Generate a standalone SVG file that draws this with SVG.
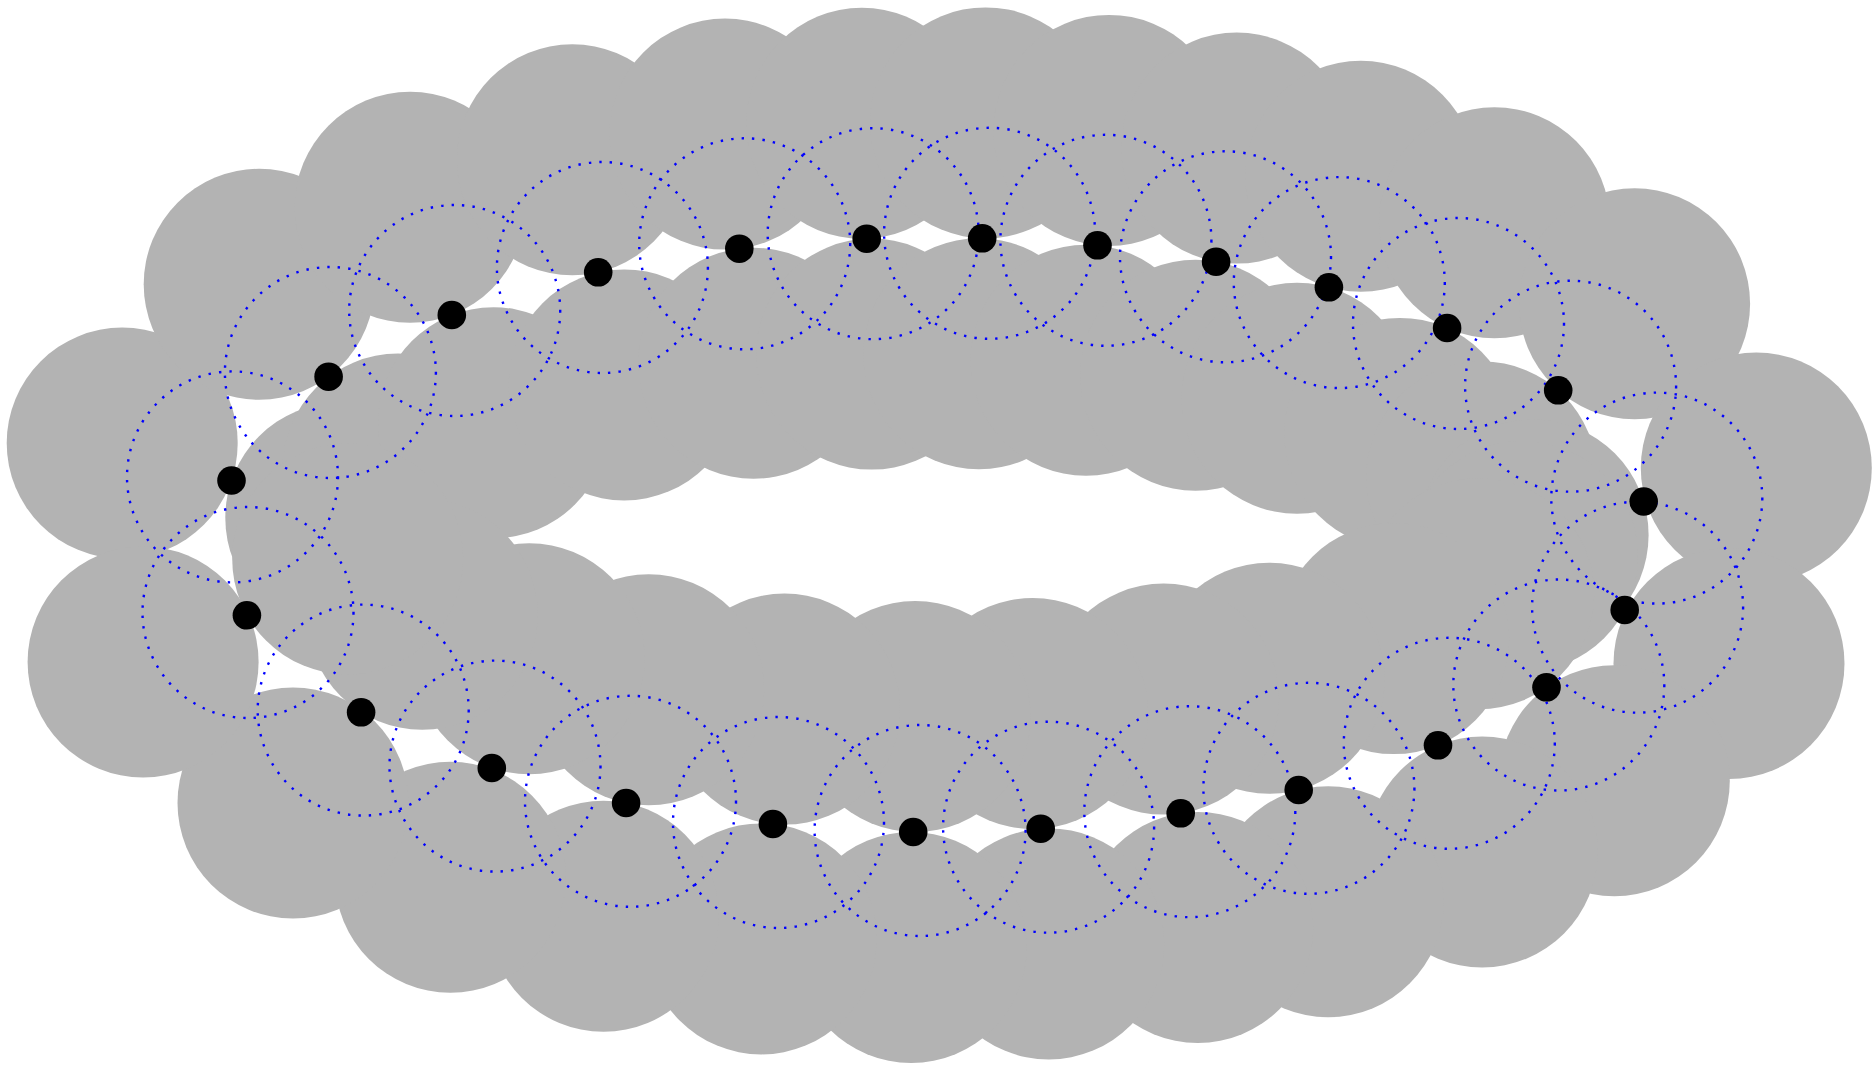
<svg xmlns="http://www.w3.org/2000/svg" width="1875" height="1068" viewBox="0 0 1875 1068">
<style>
.disk{fill:#b3b3b3;stroke:none}
.ring{fill:none;stroke:#0000ff;stroke-width:2.4;stroke-dasharray:2.4 8.1}
.pt{fill:#000000}
</style>
<rect x="0" y="0" width="1875" height="1068" fill="#ffffff"/>
<g id="outer-disks">
<circle class="disk" cx="122.2" cy="443.1" r="115.5"/>
<circle class="disk" cx="259.2" cy="284.3" r="115.5"/>
<circle class="disk" cx="410.1" cy="207.3" r="115.5"/>
<circle class="disk" cx="572.3" cy="159.7" r="115.5"/>
<circle class="disk" cx="725.0" cy="134.1" r="115.5"/>
<circle class="disk" cx="861.8" cy="123.3" r="115.5"/>
<circle class="disk" cx="985.5" cy="122.9" r="115.5"/>
<circle class="disk" cx="1109.0" cy="130.4" r="115.5"/>
<circle class="disk" cx="1236.7" cy="148.1" r="115.5"/>
<circle class="disk" cx="1360.8" cy="176.3" r="115.5"/>
<circle class="disk" cx="1494.4" cy="222.7" r="115.5"/>
<circle class="disk" cx="1634.6" cy="303.7" r="115.5"/>
<circle class="disk" cx="1756.3" cy="468.0" r="115.5"/>
<circle class="disk" cx="1729.0" cy="663.5" r="115.5"/>
<circle class="disk" cx="1614.3" cy="780.8" r="115.5"/>
<circle class="disk" cx="1482.2" cy="852.0" r="115.5"/>
<circle class="disk" cx="1328.2" cy="901.7" r="115.5"/>
<circle class="disk" cx="1197.8" cy="927.5" r="115.5"/>
<circle class="disk" cx="1048.8" cy="943.9" r="115.5"/>
<circle class="disk" cx="911.2" cy="947.5" r="115.5"/>
<circle class="disk" cx="761.3" cy="938.9" r="115.5"/>
<circle class="disk" cx="603.5" cy="916.3" r="115.5"/>
<circle class="disk" cx="450.4" cy="877.3" r="115.5"/>
<circle class="disk" cx="293.0" cy="803.0" r="115.5"/>
<circle class="disk" cx="143.1" cy="662.0" r="115.5"/>
</g>
<g id="inner-disks">
<circle class="disk" cx="340.8" cy="517.9" r="115.5"/>
<circle class="disk" cx="398.0" cy="469.1" r="115.5"/>
<circle class="disk" cx="493.5" cy="422.7" r="115.5"/>
<circle class="disk" cx="624.2" cy="384.9" r="115.5"/>
<circle class="disk" cx="753.6" cy="363.3" r="115.5"/>
<circle class="disk" cx="871.6" cy="354.1" r="115.5"/>
<circle class="disk" cx="978.9" cy="353.8" r="115.5"/>
<circle class="disk" cx="1086.0" cy="360.2" r="115.5"/>
<circle class="disk" cx="1195.5" cy="375.3" r="115.5"/>
<circle class="disk" cx="1297.0" cy="398.3" r="115.5"/>
<circle class="disk" cx="1399.8" cy="433.4" r="115.5"/>
<circle class="disk" cx="1481.8" cy="476.9" r="115.5"/>
<circle class="disk" cx="1533.1" cy="535.0" r="115.5"/>
<circle class="disk" cx="1522.4" cy="556.5" r="115.5"/>
<circle class="disk" cx="1478.7" cy="593.8" r="115.5"/>
<circle class="disk" cx="1393.8" cy="638.6" r="115.5"/>
<circle class="disk" cx="1269.2" cy="678.3" r="115.5"/>
<circle class="disk" cx="1163.6" cy="699.1" r="115.5"/>
<circle class="disk" cx="1032.7" cy="713.5" r="115.5"/>
<circle class="disk" cx="915.2" cy="716.5" r="115.5"/>
<circle class="disk" cx="784.5" cy="709.1" r="115.5"/>
<circle class="disk" cx="648.7" cy="689.7" r="115.5"/>
<circle class="disk" cx="529.2" cy="658.7" r="115.5"/>
<circle class="disk" cx="422.2" cy="614.3" r="115.5"/>
<circle class="disk" cx="347.7" cy="558.9" r="115.5"/>
</g>
<g id="blue-circles">
<circle class="ring" cx="232.5" cy="476.9" r="105.5"/>
<circle class="ring" cx="330.4" cy="372.5" r="105.5"/>
<circle class="ring" cx="454.7" cy="310.5" r="105.5"/>
<circle class="ring" cx="602.4" cy="267.5" r="105.5"/>
<circle class="ring" cx="744.7" cy="243.8" r="105.5"/>
<circle class="ring" cx="873.2" cy="233.7" r="105.5"/>
<circle class="ring" cx="989.6" cy="233.3" r="105.5"/>
<circle class="ring" cx="1105.9" cy="240.3" r="105.5"/>
<circle class="ring" cx="1225.5" cy="256.8" r="105.5"/>
<circle class="ring" cx="1339.3" cy="282.6" r="105.5"/>
<circle class="ring" cx="1458.5" cy="323.5" r="105.5"/>
<circle class="ring" cx="1570.6" cy="386.2" r="105.5"/>
<circle class="ring" cx="1656.8" cy="498.1" r="105.5"/>
<circle class="ring" cx="1637.6" cy="607.2" r="105.5"/>
<circle class="ring" cx="1558.8" cy="685.0" r="105.5"/>
<circle class="ring" cx="1449.3" cy="743.3" r="105.5"/>
<circle class="ring" cx="1308.9" cy="788.3" r="105.5"/>
<circle class="ring" cx="1189.8" cy="811.7" r="105.5"/>
<circle class="ring" cx="1048.6" cy="827.2" r="105.5"/>
<circle class="ring" cx="920.1" cy="830.5" r="105.5"/>
<circle class="ring" cx="778.5" cy="822.5" r="105.5"/>
<circle class="ring" cx="630.5" cy="801.3" r="105.5"/>
<circle class="ring" cx="495.0" cy="766.1" r="105.5"/>
<circle class="ring" cx="363.2" cy="710.1" r="105.5"/>
<circle class="ring" cx="248.0" cy="612.5" r="105.5"/>
</g>
<g id="points">
<circle id="p1" class="pt" cx="231.5" cy="480.5" r="14.3"/>
<circle id="p2" class="pt" cx="328.6" cy="376.7" r="14.3"/>
<circle id="p3" class="pt" cx="451.8" cy="315.0" r="14.3"/>
<circle id="p4" class="pt" cx="598.2" cy="272.3" r="14.3"/>
<circle id="p5" class="pt" cx="739.3" cy="248.7" r="14.3"/>
<circle id="p6" class="pt" cx="866.7" cy="238.7" r="14.3"/>
<circle id="p7" class="pt" cx="982.2" cy="238.3" r="14.3"/>
<circle id="p8" class="pt" cx="1097.5" cy="245.3" r="14.3"/>
<circle id="p9" class="pt" cx="1216.1" cy="261.7" r="14.3"/>
<circle id="p10" class="pt" cx="1328.9" cy="287.3" r="14.3"/>
<circle id="p11" class="pt" cx="1447.1" cy="328.0" r="14.3"/>
<circle id="p12" class="pt" cx="1558.2" cy="390.3" r="14.3"/>
<circle id="p13" class="pt" cx="1643.7" cy="501.5" r="14.3"/>
<circle id="p14" class="pt" cx="1624.7" cy="610.0" r="14.3"/>
<circle id="p15" class="pt" cx="1546.5" cy="687.3" r="14.3"/>
<circle id="p16" class="pt" cx="1438.0" cy="745.3" r="14.3"/>
<circle id="p17" class="pt" cx="1298.7" cy="790.0" r="14.3"/>
<circle id="p18" class="pt" cx="1180.7" cy="813.3" r="14.3"/>
<circle id="p19" class="pt" cx="1040.7" cy="828.7" r="14.3"/>
<circle id="p20" class="pt" cx="913.2" cy="832.0" r="14.3"/>
<circle id="p21" class="pt" cx="772.9" cy="824.0" r="14.3"/>
<circle id="p22" class="pt" cx="626.1" cy="803.0" r="14.3"/>
<circle id="p23" class="pt" cx="491.8" cy="768.0" r="14.3"/>
<circle id="p24" class="pt" cx="361.1" cy="712.3" r="14.3"/>
<circle id="p25" class="pt" cx="246.9" cy="615.3" r="14.3"/>
</g>
</svg>
